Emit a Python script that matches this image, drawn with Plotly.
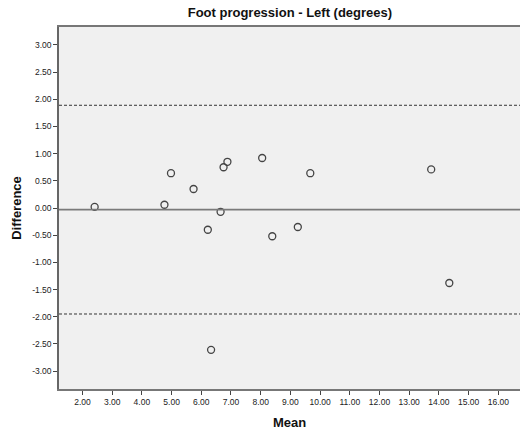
import plotly.graph_objects as go

mean_vals = [2.41, 4.76, 4.98, 5.74, 6.22, 6.65, 6.75, 6.88, 8.05, 9.67, 13.74, 8.39, 9.25, 6.33, 14.35]
diff_vals = [0.02, 0.06, 0.64, 0.35, -0.40, -0.07, 0.75, 0.85, 0.92, 0.64, 0.71, -0.52, -0.35, -2.61, -1.38]
bias = -0.03
upper_loa = 1.89
lower_loa = -1.95
x_ticks = list(range(2, 17))
y_ticks = [-3.0, -2.5, -2.0, -1.5, -1.0, -0.5, 0.0, 0.5, 1.0, 1.5, 2.0, 2.5, 3.0]

fig = go.Figure()
fig.add_trace(go.Scatter(
    x=mean_vals, y=diff_vals, mode="markers",
    marker=dict(symbol="circle-open", size=7, color="#444444", line=dict(width=1.3, color="#444444")),
    showlegend=False, hoverinfo="x+y"))

fig.add_hline(y=bias, line=dict(color="#7a7a7a", width=1.6))
fig.add_hline(y=upper_loa, line=dict(color="#333333", width=1, dash="3px,2px"))
fig.add_hline(y=lower_loa, line=dict(color="#333333", width=1, dash="3px,2px"))

axis_font = dict(family="Liberation Sans, Arial, sans-serif", size=8.5, color="#222222")
title_font = dict(family="Liberation Sans, Arial, sans-serif", size=13, color="#111111")
fig.update_layout(
    width=520, height=439,
    margin=dict(l=59, r=0, t=27, b=50),
    paper_bgcolor="white", plot_bgcolor="#F0F0F0",
    title=dict(text="<b>Foot progression - Left (degrees)</b>", x=0.5575, xanchor="center",
               y=0.972, yanchor="middle", font=title_font),
    xaxis=dict(range=[1.21, 16.73], tickvals=x_ticks, ticktext=[f"{v:.2f}" for v in x_ticks],
               ticks="outside", ticklen=4, tickcolor="#444444", showgrid=False, zeroline=False,
               showline=True, linecolor="#777777", linewidth=1.8, mirror=True,
               tickfont=axis_font,
               title=dict(text="<b>Mean</b>", font=title_font, standoff=12)),
    yaxis=dict(range=[-3.33, 3.33], tickvals=y_ticks, ticktext=[f"{v:.2f}" for v in y_ticks],
               ticks="outside", ticklen=4, tickcolor="#444444", showgrid=False, zeroline=False,
               showline=True, linecolor="#666666", linewidth=1.5, mirror=False,
               tickfont=axis_font,
               title=dict(text="<b>Difference</b>", font=title_font, standoff=8)),
)

fig.write_html("out.html")
